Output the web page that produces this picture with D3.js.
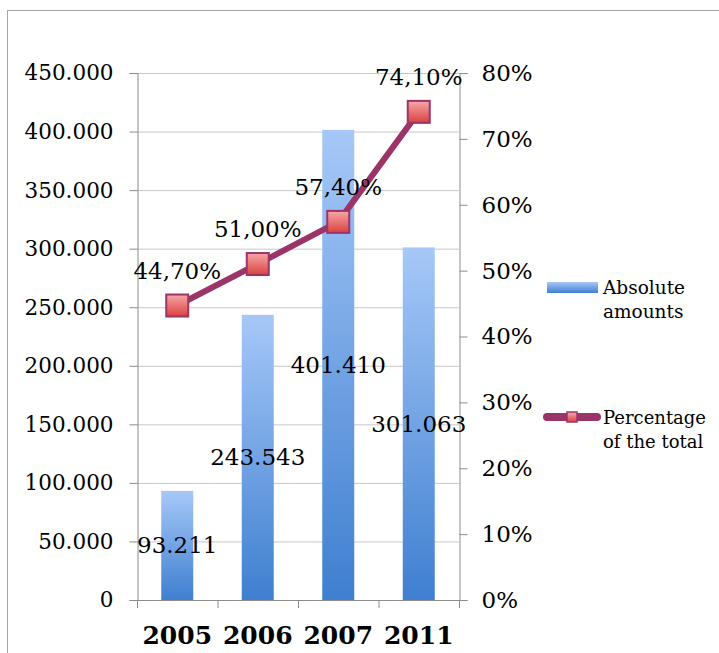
<!DOCTYPE html>
<html><head><meta charset="utf-8">
<script src="https://cdn.jsdelivr.net/npm/d3@7"></script>
<style>body{margin:0;background:#fff}svg{display:block}text{font-family:"DejaVu Serif",Georgia,serif}</style>
</head><body>
<svg id="c" width="719" height="653"></svg>
<script>
const categories = ["2005","2006","2007","2011"];
const absoluteValues = [93211, 243543, 401410, 301063];
const percentValues = [44.7, 51.0, 57.4, 74.1];
const leftTicks = [0,50000,100000,150000,200000,250000,300000,350000,400000,450000];
const rightTicks = [0,10,20,30,40,50,60,70,80];
const seriesNames = ["Absolute amounts","Percentage of the total"];

const svg = d3.select("#c");
const m = {l:137, r:459, t:73, b:600};
const fmtN = d => d3.format(",")(d).replace(/,/g,".");
const fmtP = d => d3.format(".2f")(d).replace(".",",")+"%";

const defs = svg.append("defs");
const bg = defs.append("linearGradient").attr("id","barG").attr("x1",0).attr("y1",0).attr("x2",0).attr("y2",1);
bg.append("stop").attr("offset","0%").attr("stop-color","#a6c8f8");
bg.append("stop").attr("offset","100%").attr("stop-color","#3f7fd0");
const mg = defs.append("linearGradient").attr("id","mkG").attr("x1",0).attr("y1",0).attr("x2",0).attr("y2",1);
mg.append("stop").attr("offset","0%").attr("stop-color","#f7a8a8");
mg.append("stop").attr("offset","100%").attr("stop-color","#d9413f");

// outer border
svg.append("rect").attr("x",7.5).attr("y",10.5).attr("width",760).attr("height",700)
  .attr("fill","none").attr("stroke","#a6a6a6");

const x = d3.scaleBand().domain(categories).range([m.l,m.r]);
const yL = d3.scaleLinear().domain([0,450000]).range([m.b,m.t]);
const yR = d3.scaleLinear().domain([0,80]).range([m.b,m.t]);

// gridlines
svg.append("g").selectAll("line").data(leftTicks).join("line")
  .attr("x1",m.l).attr("x2",m.r).attr("y1",d=>yL(d)+0.5).attr("y2",d=>yL(d)+0.5)
  .attr("stroke","#c8c8c8");

const gL = svg.append("g").attr("transform",`translate(${m.l+0.5},0)`)
  .call(d3.axisLeft(yL).tickValues(leftTicks).tickFormat(fmtN).tickSize(8).tickPadding(16));
const gR = svg.append("g").attr("transform",`translate(${m.r+0.5},0)`)
  .call(d3.axisRight(yR).tickValues(rightTicks).tickFormat(d=>d+"%").tickSize(8).tickPadding(14));
const gB = svg.append("g").attr("transform",`translate(0,${m.b+0.5})`)
  .call(d3.axisBottom(x).tickSize(0).tickPadding(26));
svg.append("g").selectAll("line").data(d3.range(categories.length+1)).join("line")
  .attr("x1",i=>m.l+i*x.step()+0.5).attr("x2",i=>m.l+i*x.step()+0.5)
  .attr("y1",m.b).attr("y2",m.b+8).attr("stroke","#8c8c8c");
[gL,gR,gB].forEach(g=>{
  g.selectAll(".domain").attr("stroke","#8c8c8c");
  g.selectAll(".tick line").attr("stroke","#8c8c8c");
  g.selectAll("text").attr("font-family","DejaVu Serif").attr("fill","#000");
});
gL.selectAll("text").attr("font-size",21.5);
gR.selectAll("text").attr("font-size",23);
gB.selectAll("text").attr("font-size",25).attr("font-weight","bold");
gB.select(".domain").attr("d",`M${m.l},0H${m.r+1}`);

// bars
const bw = 32;
svg.append("g").selectAll("rect").data(categories).join("rect")
  .attr("x",(d)=>x(d)+x.bandwidth()/2-bw/2).attr("width",bw)
  .attr("y",(d,i)=>yL(absoluteValues[i])).attr("height",(d,i)=>m.b-yL(absoluteValues[i]))
  .attr("fill","url(#barG)");

// bar labels
svg.append("g").selectAll("text").data(categories).join("text")
  .attr("x",d=>x(d)+x.bandwidth()/2).attr("y",(d,i)=>(yL(absoluteValues[i])+m.b)/2+8)
  .attr("text-anchor","middle").attr("font-size",23).text((d,i)=>fmtN(absoluteValues[i]));

// line
const line = d3.line().x((d,i)=>x(categories[i])+x.bandwidth()/2).y(d=>yR(d));
svg.append("path").datum(percentValues).attr("d",line).attr("fill","none")
  .attr("stroke","#9b3468").attr("stroke-width",6).attr("stroke-linejoin","round");
const ms = 22;
svg.append("g").selectAll("rect").data(percentValues).join("rect")
  .attr("x",(d,i)=>x(categories[i])+x.bandwidth()/2-ms/2).attr("y",d=>yR(d)-ms/2)
  .attr("width",ms).attr("height",ms).attr("fill","url(#mkG)").attr("stroke","#9b3468").attr("stroke-width",2);
svg.append("g").selectAll("text").data(percentValues).join("text")
  .attr("x",(d,i)=>x(categories[i])+x.bandwidth()/2).attr("y",d=>yR(d)-27)
  .attr("text-anchor","middle").attr("font-size",23).text(d=>fmtP(d));

// legend
const lg = svg.append("g");
lg.append("rect").attr("x",547).attr("y",282).attr("width",51).attr("height",11).attr("fill","url(#barG)");
lg.append("text").attr("x",603).attr("y",294).attr("font-size",18.5).text("Absolute");
lg.append("text").attr("x",603).attr("y",318).attr("font-size",18.5).text("amounts");
lg.append("line").attr("x1",547).attr("x2",597).attr("y1",417).attr("y2",417)
  .attr("stroke","#9b3468").attr("stroke-width",8).attr("stroke-linecap","round");
lg.append("rect").attr("x",567).attr("y",412).attr("width",10).attr("height",10)
  .attr("fill","url(#mkG)").attr("stroke","#9b3468").attr("stroke-width",1.5);
lg.append("text").attr("x",603).attr("y",424).attr("font-size",18).text("Percentage");
lg.append("text").attr("x",603).attr("y",448).attr("font-size",18).text("of the total");
</script>
</body></html>
